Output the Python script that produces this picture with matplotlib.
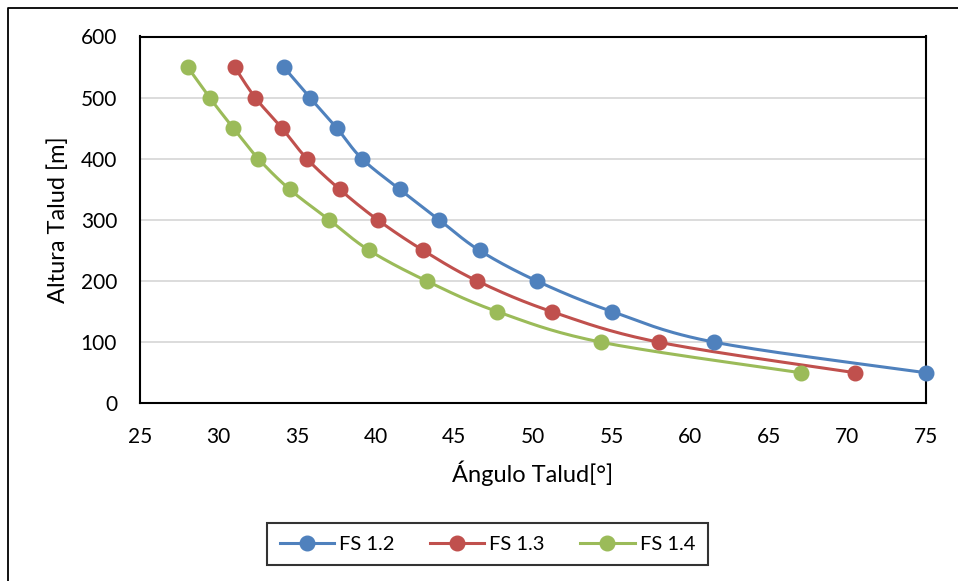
import numpy as np
import matplotlib
matplotlib.use("Agg")
import matplotlib.pyplot as plt
from matplotlib.lines import Line2D

plt.rcParams['font.family'] = ['Lato', 'DejaVu Sans']

# Slope height [m] against slope angle [deg] for three safety factors
alturas = [550, 500, 450, 400, 350, 300, 250, 200, 150, 100, 50]
fs12 = [34.14, 35.81, 37.53, 39.12, 41.52, 44.04, 46.6, 50.25, 55.04, 61.53, 75.0]
fs13 = [31.02, 32.33, 34.03, 35.62, 37.70, 40.12, 43.02, 46.46, 51.19, 58.0, 70.5]
fs14 = [28.03, 29.43, 30.94, 32.53, 34.52, 37.04, 39.59, 43.24, 47.73, 54.33, 67.03]
series = [("FS 1.2", fs12, "#4F81BD"),
          ("FS 1.3", fs13, "#C0504D"),
          ("FS 1.4", fs14, "#9BBB59")]

x_ticks = [25, 30, 35, 40, 45, 50, 55, 60, 65, 70, 75]
y_ticks = [0, 100, 200, 300, 400, 500, 600]

W, H = 958, 581
fig = plt.figure(figsize=(W / 100, H / 100), dpi=100)
L, R, T, B = 140, 926, 36.5, 403.3
ax = fig.add_axes([L / W, (H - B) / H, (R - L) / W, (B - T) / H])
ax.set_xlim(25, 75)
ax.set_ylim(0, 600)
sx = (R - L) / 50.0
sy = (B - T) / 600.0


def smooth(xs, ys, n=30):
    """Catmull-Rom style Bezier smoothing computed in screen scale."""
    P = np.column_stack([(np.array(xs) - 25) * sx, np.array(ys) * sy])
    out = [P[0]]
    m = len(P)
    t = np.linspace(0, 1, n)[1:, None]
    for i in range(m - 1):
        p0 = P[max(i - 1, 0)]
        p1 = P[i]
        p2 = P[i + 1]
        p3 = P[min(i + 2, m - 1)]
        c1 = p1 + (p2 - p0) / 6.0
        c2 = p2 - (p3 - p1) / 6.0
        seg = ((1 - t) ** 3) * p1 + 3 * ((1 - t) ** 2) * t * c1 + 3 * (1 - t) * t ** 2 * c2 + t ** 3 * p2
        out.extend(seg)
    out = np.array(out)
    return out[:, 0] / sx + 25, out[:, 1] / sy


for name, xs, col in series:
    cx, cy = smooth(xs, alturas)
    ax.plot(cx, cy, color=col, lw=2.2, solid_capstyle='round', zorder=3)
    ax.plot(xs, alturas, 'o', color=col, ms=10.5, zorder=4, clip_on=False)

ax.set_xticks(x_ticks)
ax.set_yticks(y_ticks)
ax.tick_params(length=0, labelsize=15, colors='black')
ax.tick_params(axis='x', pad=17)
ax.tick_params(axis='y', pad=16.5)
ax.yaxis.grid(True, color='#d9d9d9', lw=1.3)
ax.set_axisbelow(True)
for sp in ax.spines.values():
    sp.set_color('black')
    sp.set_linewidth(1.5)

fig.text(533 / W, 1 - 473 / H, "Ángulo Talud[°]", ha='center', va='center', fontsize=17)
fig.text(58 / W, 1 - 220 / H, "Altura Talud [m]", ha='center', va='center',
         rotation=90, fontsize=17)

handles = [Line2D([], [], color=c, lw=2.2, marker='o', ms=10.5) for _, _, c in series]
leg = fig.legend(handles, [s[0] for s in series], ncol=3,
                 loc='center', bbox_to_anchor=(487.5 / W, 1 - 544 / H),
                 fontsize=14.5, frameon=True, fancybox=False, handlelength=2.7,
                 columnspacing=1.75, handletextpad=0.25, borderpad=0.62,
                 borderaxespad=0)
leg.get_frame().set_edgecolor('black')
leg.get_frame().set_linewidth(1.5)

# outer chart frame (left and top edges)
fig.add_artist(Line2D([7.5 / W, 7.5 / W, 1.0], [0.0, 1 - 7.5 / H, 1 - 7.5 / H],
                      transform=fig.transFigure, color='black', lw=1.3))

fig.savefig("out.png", dpi=100)
